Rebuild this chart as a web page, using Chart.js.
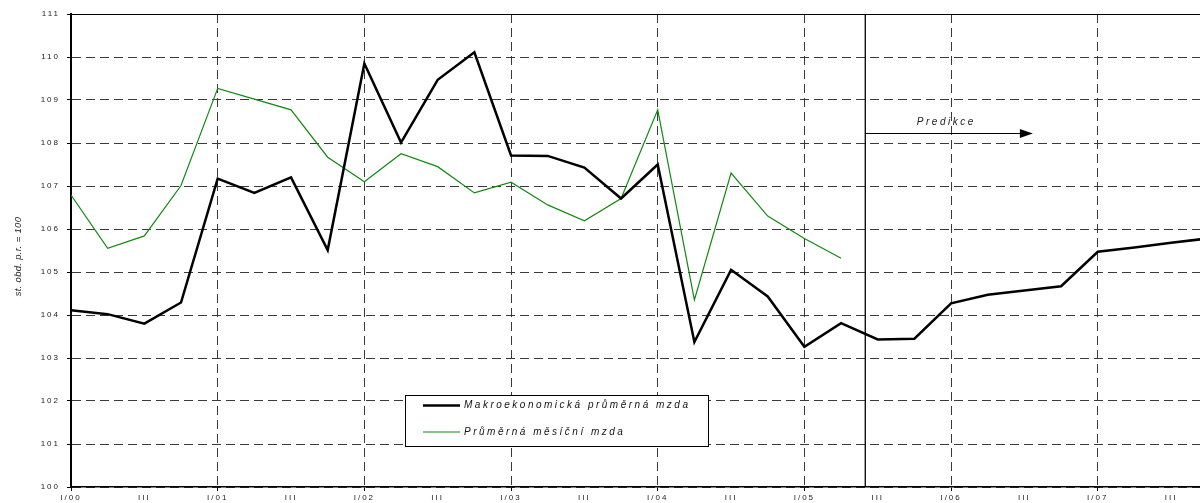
<!DOCTYPE html>
<html>
<head>
<meta charset="utf-8">
<title>Mzdy</title>
<script src="https://cdn.jsdelivr.net/npm/chart.js@4.4.1/dist/chart.umd.min.js"></script>
<style>
    html, body { margin: 0; padding: 0; background: #fff; overflow: hidden; }
    #wrap { width: 1200px; height: 503px; }
</style>
</head>
<body>
<div id="wrap"><canvas id="wage-chart" width="1200" height="503"></canvas></div>
<script>
// Tick labels, one every second quarter (I/00 ... III/07)
const tickLabels = ['I/00', 'III', 'I/01', 'III', 'I/02', 'III', 'I/03', 'III',
                    'I/04', 'III', 'I/05', 'III', 'I/06', 'III', 'I/07', 'III'];

// Quarterly values, same period previous year = 100
const macroWage = [104.11, 104.02, 103.80, 104.29, 107.17, 106.84, 107.20, 105.51,
                   109.85, 108.01, 109.47, 110.11, 107.71, 107.70, 107.43, 106.71,
                   107.50, 103.37, 105.05, 104.43, 103.26, 103.81, 103.43, 103.45,
                   104.27, 104.47, 104.57, 104.67, 105.47, 105.57, 105.68, 105.78];
const monthlyWage = [106.79, 105.55, 105.84, 107.01, 109.27, 109.02, 108.77, 107.67,
                     107.10, 107.75, 107.45, 106.84, 107.09, 106.56, 106.19, 106.71,
                     108.77, 104.35, 107.30, 106.30, 105.78, 105.32];

const seriesNames = ['Makroekonomická průměrná mzda', 'Průměrná měsíční mzda'];
const axisTitle = 'st. obd. p.r. = 100';
const predictionLabel = 'Predikce';
const predictionStart = 21.66;   // quarter where the forecast starts
const predictionArrowEnd = 26.23;
const predictionArrowLevel = 108.23;

const GRID = '#3a3a3a';
const FONT = '"Liberation Sans", Arial, sans-serif';

// Prediction marker, y axis title and the boxed legend
const overlayPlugin = {
    id: 'overlay',
    beforeDraw(chart) {
        chart.ctx.letterSpacing = '2px';
    },
    afterDraw(chart) {
        const { ctx, chartArea, scales: { x, y } } = chart;
        ctx.save();

        // forecast boundary
        const px = x.getPixelForValue(predictionStart);
        ctx.strokeStyle = '#000';
        ctx.lineWidth = 1.3;
        ctx.beginPath();
        ctx.moveTo(px, chartArea.top);
        ctx.lineTo(px, chartArea.bottom);
        ctx.stroke();

        // arrow
        const ay = Math.round(y.getPixelForValue(predictionArrowLevel)) + 0.5;
        const ax = x.getPixelForValue(predictionArrowEnd);
        ctx.lineWidth = 1;
        ctx.beginPath();
        ctx.moveTo(px, ay);
        ctx.lineTo(ax - 12, ay);
        ctx.stroke();
        ctx.fillStyle = '#000';
        ctx.beginPath();
        ctx.moveTo(ax - 13, ay - 4.5);
        ctx.lineTo(ax, ay);
        ctx.lineTo(ax - 13, ay + 4.5);
        ctx.closePath();
        ctx.fill();

        ctx.font = 'italic 10px ' + FONT;
        ctx.letterSpacing = '2.5px';
        ctx.textAlign = 'center';
        ctx.textBaseline = 'middle';
        ctx.fillStyle = '#222';
        ctx.fillText(predictionLabel, px + 81, ay - 11.5);

        // y axis title
        ctx.save();
        ctx.translate(18.5, (chartArea.top + chartArea.bottom) / 2 + 6);
        ctx.rotate(-Math.PI / 2);
        ctx.font = 'italic 9.5px ' + FONT;
        ctx.letterSpacing = '0.3px';
        ctx.fillStyle = '#222';
        ctx.fillText(axisTitle, 0, 0);
        ctx.restore();

        // legend
        const box = { left: 405.5, top: 395.5, width: 303, height: 51 };
        ctx.fillStyle = '#fff';
        ctx.fillRect(box.left, box.top, box.width, box.height);
        ctx.strokeStyle = '#000';
        ctx.lineWidth = 1;
        ctx.strokeRect(box.left, box.top, box.width, box.height);

        ctx.font = 'italic 10px ' + FONT;
        ctx.letterSpacing = '2.5px';
        ctx.textAlign = 'left';
        ctx.fillStyle = '#111';
        chart.data.datasets.forEach((ds, i) => {
            const ly = box.top + 10 + i * 26.5;
            ctx.strokeStyle = ds.borderColor;
            ctx.lineWidth = ds.borderWidth;
            ctx.beginPath();
            ctx.moveTo(423, ly);
            ctx.lineTo(460, ly);
            ctx.stroke();
            ctx.fillText(ds.label, 464, ly);
        });

        ctx.restore();
    }
};

new Chart(document.getElementById('wage-chart'), {
    type: 'line',
    data: {
        datasets: [
            {
                label: seriesNames[0],
                data: macroWage.map((v, i) => ({ x: i, y: v })),
                borderColor: '#000',
                borderWidth: 2.5,
                pointRadius: 0,
                tension: 0
            },
            {
                label: seriesNames[1],
                data: monthlyWage.map((v, i) => ({ x: i, y: v })),
                borderColor: '#118a11',
                borderWidth: 1.2,
                pointRadius: 0,
                tension: 0
            }
        ]
    },
    options: {
        responsive: false,
        animation: false,
        devicePixelRatio: 1,
        layout: { padding: { top: 14, right: 0, bottom: 0, left: 0 } },
        plugins: {
            legend: { display: false },
            tooltip: { enabled: false }
        },
        scales: {
            x: {
                type: 'linear',
                min: 0,
                max: (1200 - 71) / 36.67,
                afterBuildTicks: scale => {
                    scale.ticks = tickLabels.map((_, i) => ({ value: i * 2 }));
                },
                afterFit: scale => { scale.height = 16; },
                ticks: {
                    autoSkip: false,
                    maxRotation: 0,
                    padding: 2,
                    color: '#222',
                    font: { family: FONT, size: 8 },
                    callback: (value, index) => tickLabels[index]
                },
                grid: {
                    color: c => (c.tick && c.tick.value % 4 === 0 && c.tick.value > 0) ? GRID : 'rgba(0,0,0,0)',
                    tickColor: c => (c.tick && c.tick.value % 4 === 0) ? '#000' : 'rgba(0,0,0,0)',
                    tickLength: 4,
                    lineWidth: 1
                },
                border: { color: '#000', width: 1.5, dash: [9, 5] }
            },
            y: {
                min: 100,
                max: 111,
                afterFit: scale => { scale.width = 71; },
                ticks: {
                    stepSize: 1,
                    padding: 7,
                    color: '#222',
                    font: { family: FONT, size: 8 }
                },
                grid: {
                    color: c => (c.tick && c.tick.value === 111) ? '#000' : GRID,
                    tickColor: '#000',
                    tickLength: 4,
                    lineWidth: 1
                },
                border: {
                    color: '#000',
                    width: 2,
                    dash: c => (c.tick && c.tick.value === 111) ? [] : [9, 5]
                }
            }
        }
    },
    plugins: [overlayPlugin]
});
</script>
</body>
</html>
